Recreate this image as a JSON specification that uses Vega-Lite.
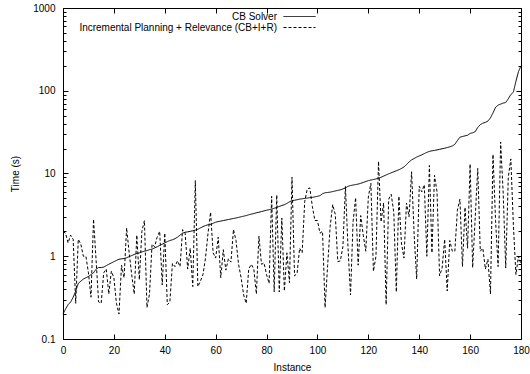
{
  "$schema": "https://vega.github.io/schema/vega-lite/v6.json",
  "width": 458,
  "height": 331,
  "autosize": "none",
  "padding": {"left": 63, "top": 8, "right": 9, "bottom": 35},
  "background": "white",
  "config": {
    "view": {"stroke": "black", "strokeWidth": 1},
    "font": "Liberation Sans",
    "axis": {
      "labelFont": "Liberation Sans", "labelFontSize": 10, "labelColor": "black",
      "titleFont": "Liberation Sans", "titleFontSize": 10, "titleFontWeight": "normal", "titleColor": "black",
      "domain": false, "grid": false, "tickColor": "black", "tickWidth": 1
    },
    "legend": {"labelFont": "Liberation Sans", "labelFontSize": 10, "labelColor": "black"}
  },
  "data": {"values": [
    {"i":0,"cb":0.20,"cbir":2.0},{"i":1,"cb":0.23,"cbir":1.9},{"i":2,"cb":0.26,"cbir":1.45},{"i":3,"cb":0.28,"cbir":1.8},{"i":4,"cb":0.32,"cbir":1.6},
    {"i":5,"cb":0.38,"cbir":0.27},{"i":6,"cb":0.47,"cbir":1.6},{"i":7,"cb":0.50,"cbir":1.4},{"i":8,"cb":0.53,"cbir":1.0},{"i":9,"cb":0.55,"cbir":1.0},
    {"i":10,"cb":0.57,"cbir":0.63},{"i":11,"cb":0.60,"cbir":0.32},{"i":12,"cb":0.63,"cbir":2.8},{"i":13,"cb":0.70,"cbir":0.9},{"i":14,"cb":0.73,"cbir":0.28},
    {"i":15,"cb":0.73,"cbir":0.27},{"i":16,"cb":0.74,"cbir":0.63},{"i":17,"cb":0.77,"cbir":0.7},{"i":18,"cb":0.80,"cbir":0.35},{"i":19,"cb":0.83,"cbir":0.66},
    {"i":20,"cb":0.86,"cbir":0.55},{"i":21,"cb":0.89,"cbir":0.27},{"i":22,"cb":0.92,"cbir":0.2},{"i":23,"cb":0.93,"cbir":0.78},{"i":24,"cb":0.94,"cbir":0.55},
    {"i":25,"cb":0.96,"cbir":2.2},{"i":26,"cb":0.99,"cbir":1.1},{"i":27,"cb":1.02,"cbir":0.6},{"i":28,"cb":1.05,"cbir":0.35},{"i":29,"cb":1.08,"cbir":1.8},
    {"i":30,"cb":1.10,"cbir":0.52},{"i":31,"cb":1.13,"cbir":2.0},{"i":32,"cb":1.15,"cbir":2.7},{"i":33,"cb":1.17,"cbir":0.24},{"i":34,"cb":1.20,"cbir":0.35},
    {"i":35,"cb":1.22,"cbir":1.4},{"i":36,"cb":1.26,"cbir":1.3},{"i":37,"cb":1.30,"cbir":1.7},{"i":38,"cb":1.35,"cbir":2.0},{"i":39,"cb":1.40,"cbir":0.45},
    {"i":40,"cb":1.45,"cbir":1.9},{"i":41,"cb":1.50,"cbir":0.26},{"i":42,"cb":1.55,"cbir":0.28},{"i":43,"cb":1.58,"cbir":0.82},{"i":44,"cb":1.63,"cbir":0.75},
    {"i":45,"cb":1.70,"cbir":0.88},{"i":46,"cb":1.80,"cbir":0.75},{"i":47,"cb":1.90,"cbir":2.1},{"i":48,"cb":1.95,"cbir":1.9},{"i":49,"cb":1.97,"cbir":0.7},
    {"i":50,"cb":2.00,"cbir":1.25},{"i":51,"cb":2.03,"cbir":0.43},{"i":52,"cb":2.07,"cbir":8.2},{"i":53,"cb":2.12,"cbir":0.43},{"i":54,"cb":2.20,"cbir":0.5},
    {"i":55,"cb":2.28,"cbir":0.6},{"i":56,"cb":2.35,"cbir":0.95},{"i":57,"cb":2.40,"cbir":1.9},{"i":58,"cb":2.42,"cbir":3.4},{"i":59,"cb":2.50,"cbir":1.1},
    {"i":60,"cb":2.58,"cbir":0.95},{"i":61,"cb":2.62,"cbir":1.7},{"i":62,"cb":2.66,"cbir":0.55},{"i":63,"cb":2.70,"cbir":1.2},{"i":64,"cb":2.74,"cbir":0.68},
    {"i":65,"cb":2.78,"cbir":0.93},{"i":66,"cb":2.82,"cbir":0.85},{"i":67,"cb":2.86,"cbir":2.1},{"i":68,"cb":2.90,"cbir":1.55},{"i":69,"cb":2.95,"cbir":0.8},
    {"i":70,"cb":3.00,"cbir":0.55},{"i":71,"cb":3.05,"cbir":0.34},{"i":72,"cb":3.10,"cbir":0.27},{"i":73,"cb":3.17,"cbir":0.7},{"i":74,"cb":3.23,"cbir":0.8},
    {"i":75,"cb":3.28,"cbir":0.7},{"i":76,"cb":3.35,"cbir":0.35},{"i":77,"cb":3.40,"cbir":1.75},{"i":78,"cb":3.47,"cbir":0.8},{"i":79,"cb":3.53,"cbir":0.83},
    {"i":80,"cb":3.60,"cbir":0.6},{"i":81,"cb":3.65,"cbir":0.47},{"i":82,"cb":3.72,"cbir":5.3},{"i":83,"cb":3.80,"cbir":0.37},{"i":84,"cb":3.90,"cbir":5.5},
    {"i":85,"cb":4.00,"cbir":0.37},{"i":86,"cb":4.10,"cbir":2.9},{"i":87,"cb":4.20,"cbir":0.38},{"i":88,"cb":4.35,"cbir":1.1},{"i":89,"cb":4.55,"cbir":0.48},
    {"i":90,"cb":4.70,"cbir":9.0},{"i":91,"cb":4.75,"cbir":0.58},{"i":92,"cb":4.82,"cbir":0.62},{"i":93,"cb":4.90,"cbir":1.25},{"i":94,"cb":4.95,"cbir":1.1},
    {"i":95,"cb":5.00,"cbir":4.6},{"i":96,"cb":5.05,"cbir":6.5},{"i":97,"cb":5.10,"cbir":6.7},{"i":98,"cb":5.15,"cbir":4.0},{"i":99,"cb":5.22,"cbir":2.7},
    {"i":100,"cb":5.30,"cbir":2.7},{"i":101,"cb":5.40,"cbir":1.9},{"i":102,"cb":5.70,"cbir":2.0},{"i":103,"cb":5.85,"cbir":0.24},{"i":104,"cb":5.90,"cbir":0.77},
    {"i":105,"cb":5.95,"cbir":2.3},{"i":106,"cb":6.05,"cbir":4.2},{"i":107,"cb":6.15,"cbir":3.2},{"i":108,"cb":6.25,"cbir":0.86},{"i":109,"cb":6.35,"cbir":0.88},
    {"i":110,"cb":6.50,"cbir":1.3},{"i":111,"cb":6.70,"cbir":7.0},{"i":112,"cb":7.00,"cbir":1.3},{"i":113,"cb":7.15,"cbir":0.34},{"i":114,"cb":7.25,"cbir":2.6},
    {"i":115,"cb":7.35,"cbir":5.1},{"i":116,"cb":7.45,"cbir":0.78},{"i":117,"cb":7.60,"cbir":3.1},{"i":118,"cb":7.80,"cbir":1.8},{"i":119,"cb":8.00,"cbir":1.15},
    {"i":120,"cb":8.20,"cbir":5.2},{"i":121,"cb":8.35,"cbir":7.6},{"i":122,"cb":8.45,"cbir":0.66},{"i":123,"cb":8.60,"cbir":1.0},{"i":124,"cb":8.80,"cbir":14.0},
    {"i":125,"cb":9.00,"cbir":2.6},{"i":126,"cb":9.30,"cbir":4.4},{"i":127,"cb":9.60,"cbir":0.26},{"i":128,"cb":9.90,"cbir":4.9},{"i":129,"cb":10.2,"cbir":5.6},
    {"i":130,"cb":10.5,"cbir":3.4},{"i":131,"cb":10.8,"cbir":0.37},{"i":132,"cb":11.1,"cbir":5.3},{"i":133,"cb":11.5,"cbir":1.45},{"i":134,"cb":12.0,"cbir":0.95},
    {"i":135,"cb":12.8,"cbir":4.4},{"i":136,"cb":13.8,"cbir":3.0},{"i":137,"cb":14.6,"cbir":10.5},{"i":138,"cb":15.2,"cbir":1.85},{"i":139,"cb":15.8,"cbir":0.53},
    {"i":140,"cb":16.3,"cbir":7.0},{"i":141,"cb":16.8,"cbir":6.0},{"i":142,"cb":17.4,"cbir":7.3},{"i":143,"cb":18.0,"cbir":1.0},{"i":144,"cb":18.5,"cbir":12.5},
    {"i":145,"cb":18.8,"cbir":1.1},{"i":146,"cb":19.0,"cbir":9.5},{"i":147,"cb":19.3,"cbir":6.0},{"i":148,"cb":19.6,"cbir":0.58},{"i":149,"cb":19.9,"cbir":0.72},
    {"i":150,"cb":20.2,"cbir":1.6},{"i":151,"cb":20.6,"cbir":0.38},{"i":152,"cb":21.0,"cbir":1.55},{"i":153,"cb":21.5,"cbir":1.15},{"i":154,"cb":22.5,"cbir":1.15},
    {"i":155,"cb":25.0,"cbir":3.6},{"i":156,"cb":27.5,"cbir":4.9},{"i":157,"cb":28.0,"cbir":0.75},{"i":158,"cb":28.5,"cbir":3.9},{"i":159,"cb":29.0,"cbir":1.25},
    {"i":160,"cb":30.5,"cbir":13.0},{"i":161,"cb":31.0,"cbir":0.73},{"i":162,"cb":32.0,"cbir":2.9},{"i":163,"cb":36.0,"cbir":11.5},{"i":164,"cb":39.0,"cbir":1.15},
    {"i":165,"cb":40.5,"cbir":1.25},{"i":166,"cb":41.5,"cbir":0.7},{"i":167,"cb":43.0,"cbir":0.92},{"i":168,"cb":47.0,"cbir":0.35},{"i":169,"cb":54.0,"cbir":17.0},
    {"i":170,"cb":63.0,"cbir":2.7},{"i":171,"cb":67.0,"cbir":0.75},{"i":172,"cb":69.0,"cbir":24.0},{"i":173,"cb":71.0,"cbir":5.8},{"i":174,"cb":72.0,"cbir":0.72},
    {"i":175,"cb":80.0,"cbir":9.0},{"i":176,"cb":90.0,"cbir":15.0},{"i":177,"cb":96.0,"cbir":2.4},{"i":178,"cb":130.0,"cbir":0.6},{"i":179,"cb":170.0,"cbir":1.0},
    {"i":180,"cb":200.0,"cbir":0.8}
  ]},
  "transform": [{"fold": ["cb", "cbir"], "as": ["series", "time"]}],
  "resolve": {"axis": {"x": "independent", "y": "independent"}},
  "layer": [
    {
      "mark": {"type": "line", "color": "black", "strokeWidth": 1},
      "encoding": {
        "x": {"field": "i", "type": "quantitative",
              "scale": {"domain": [0, 180], "nice": false, "zero": false},
              "axis": {"title": "Instance", "orient": "bottom", "values": [0,20,40,60,80,100,120,140,160,180],
                       "tickSize": -5, "labelPadding": 11, "titlePadding": 7, "labelFlush": false}},
        "y": {"field": "time", "type": "quantitative",
              "scale": {"type": "log", "domain": [0.1, 1000], "nice": false},
              "axis": {"title": "Time (s)", "orient": "left",
                       "values": [0.1,0.2,0.3,0.4,0.5,0.6,0.7,0.8,0.9,1,2,3,4,5,6,7,8,9,10,20,30,40,50,60,70,80,90,100,200,300,400,500,600,700,800,900,1000],
                       "format": "~g",
                       "labelExpr": "abs(log(datum.value)/LN10 - round(log(datum.value)/LN10)) < 0.001 ? datum.label : ''",
                       "tickSize": {"condition": {"test": "abs(log(datum.value)/LN10 - round(log(datum.value)/LN10)) < 0.001", "value": -5}, "value": -3},
                       "labelPadding": 13, "titlePadding": 12, "labelFlush": false}},
        "strokeDash": {"field": "series", "type": "nominal",
                       "scale": {"domain": ["cb", "cbir"], "range": [[1, 0], [3, 2]]},
                       "legend": {"title": null, "orient": "none", "legendX": 231, "legendY": 3,
                                  "symbolType": "M-3.2,0H3.2", "symbolSize": 100, "symbolStrokeWidth": 1, "symbolStrokeColor": "black", "symbolFillColor": "transparent",
                                  "labelAlign": "right", "labelOffset": -28, "labelLimit": 0, "rowPadding": 0, "padding": 0,
                                  "labelExpr": "datum.value == 'cb' ? 'CB Solver' : 'Incremental Planning + Relevance (CB+I+R)'"}}
      }
    },
    {
      "mark": {"type": "line", "strokeOpacity": 0},
      "encoding": {
        "x": {"field": "i", "type": "quantitative",
              "axis": {"title": null, "orient": "top", "labels": false, "values": [0,20,40,60,80,100,120,140,160,180], "tickSize": -5}},
        "y": {"field": "time", "type": "quantitative",
              "axis": {"title": null, "orient": "right", "labels": false,
                       "values": [0.1,0.2,0.3,0.4,0.5,0.6,0.7,0.8,0.9,1,2,3,4,5,6,7,8,9,10,20,30,40,50,60,70,80,90,100,200,300,400,500,600,700,800,900,1000],
                       "tickSize": {"condition": {"test": "abs(log(datum.value)/LN10 - round(log(datum.value)/LN10)) < 0.001", "value": -5}, "value": -3}}},
        "detail": {"field": "series", "type": "nominal"}
      }
    }
  ]
}
